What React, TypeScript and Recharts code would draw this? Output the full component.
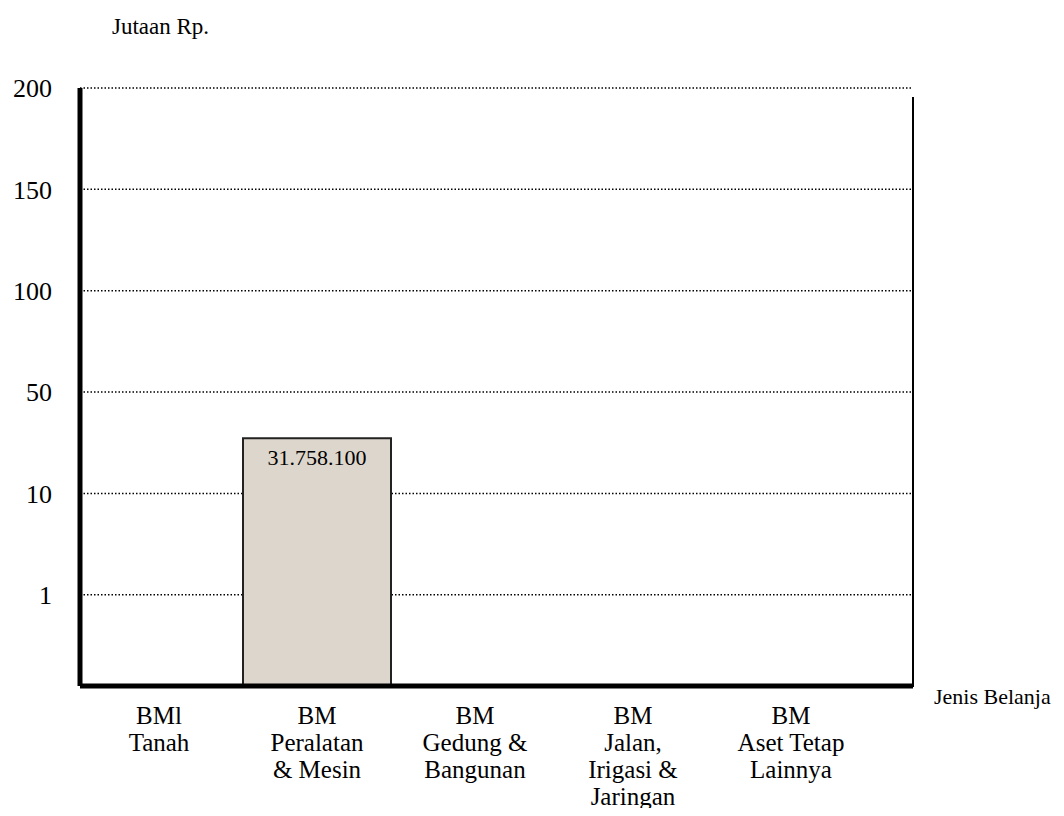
import { BarChart, Bar, XAxis, YAxis, CartesianGrid, LabelList } from 'recharts';

const categories = [
  'BMl\nTanah',
  'BM\nPeralatan\n& Mesin',
  'BM\nGedung &\nBangunan',
  'BM\nJalan,\nIrigasi &\nJaringan',
  'BM\nAset Tetap\nLainnya',
];
// in jutaan Rp.
const values = [0, 31.7581, 0, 0, 0];
const valueLabels = ['', '31.758.100', '', '', ''];
const tickValues = [1, 10, 50, 100, 150, 200];

// the axis is not linear: each tick step gets the same height
const toPos = (v: number) => {
  if (v <= 0) return 0;
  if (v <= tickValues[0]) return 0.9 * (v / tickValues[0]);
  for (let i = 1; i < tickValues.length; i++) {
    if (v <= tickValues[i]) {
      const f = (v - tickValues[i - 1]) / (tickValues[i] - tickValues[i - 1]);
      return 0.9 + (i - 1) + f;
    }
  }
  return 0.9 + tickValues.length - 1;
};
const tickPos = tickValues.map(toPos);

const data = categories.map((name, i) => ({
  name,
  pos: toPos(values[i]),
  label: valueLabels[i],
}));

const serif = '"Liberation Serif", "Times New Roman", serif';

function CategoryTick(props: any) {
  const { x, y, payload } = props;
  const lines = String(payload.value).split('\n');
  return (
    <g>
      <text x={x} y={y} textAnchor="middle" fontFamily={serif} fontSize={25} fill="#000">
        {lines.map((l, i) => (
          <tspan key={i} x={x} dy={i === 0 ? 30 : 27} fontFamily={serif}>
            {l}
          </tspan>
        ))}
      </text>
    </g>
  );
}

export default function App() {
  // negative margin cancels the body margin so page coords match the chart
  return (
    <div style={{ position: 'relative', width: 1064, height: 816, margin: -8, fontFamily: serif }}>
      <style>{`.recharts-surface { overflow: visible; }`}</style>
      <div style={{ position: 'absolute', left: 112, top: 14, fontSize: 23, whiteSpace: 'nowrap' }}>Jutaan Rp.</div>
      <div style={{ position: 'absolute', left: 934, top: 684, fontSize: 22, whiteSpace: 'nowrap' }}>Jenis Belanja</div>
      {/* thin right frame line */}
      <div style={{ position: 'absolute', left: 912, top: 97, width: 2, height: 590, background: '#000' }} />
      <BarChart
        width={1064}
        height={816}
        data={data}
        margin={{ top: 88, right: 151, bottom: 0, left: 0 }}
        barCategoryGap={5}
      >
        <CartesianGrid
          vertical={false}
          stroke="#000"
          strokeWidth={1.5}
          strokeDasharray="1.5 2"
        />
        <XAxis
          dataKey="name"
          interval={0}
          tick={<CategoryTick />}
          tickLine={false}
          axisLine={{ stroke: '#000', strokeWidth: 5 }}
          padding={{ left: 0, right: 43 }}
          height={130}
        />
        <YAxis
          width={80}
          type="number"
          domain={[0, tickPos[tickPos.length - 1]]}
          ticks={tickPos}
          tickFormatter={(v: number) => {
            const i = tickPos.findIndex((p) => Math.abs(p - v) < 1e-6);
            return i >= 0 ? String(tickValues[i]) : '';
          }}
          tick={{ fill: '#000', fontSize: 26, fontFamily: serif }}
          tickLine={false}
          tickMargin={22}
          axisLine={{ stroke: '#000', strokeWidth: 5 }}
        />
        <Bar dataKey="pos" fill="#ddd6cc" stroke="#222" strokeWidth={2} isAnimationActive={false}>
          <LabelList
            dataKey="label"
            position="insideTop"
            offset={11}
            fill="#000"
            fontSize={22}
            fontFamily={serif}
          />
        </Bar>
      </BarChart>
    </div>
  );
}
